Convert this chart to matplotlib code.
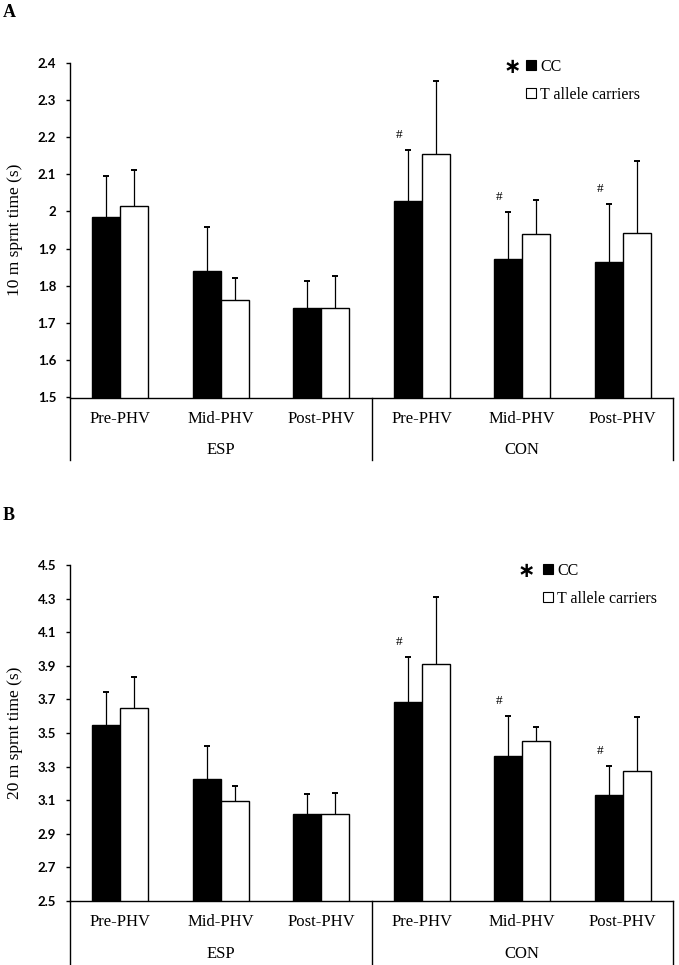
import matplotlib.pyplot as plt
import numpy as np

phases = ["Pre-PHV", "Mid-PHV", "Post-PHV"]
groups = ["ESP", "CON"]
series = ["CC", "T allele carriers"]

# panel A - 10 m sprint (mean, upper SD)
cc_10 = [1.986, 1.840, 1.740, 2.027, 1.873, 1.865]
cc_10_sd = [0.110, 0.119, 0.073, 0.138, 0.125, 0.154]
t_10 = [2.016, 1.762, 1.740, 2.155, 1.939, 1.942]
t_10_sd = [0.095, 0.060, 0.086, 0.195, 0.091, 0.194]

# panel B - 20 m sprint
cc_20 = [3.545, 3.225, 3.015, 3.685, 3.365, 3.128]
cc_20_sd = [0.200, 0.195, 0.120, 0.270, 0.235, 0.177]
t_20 = [3.650, 3.095, 3.015, 3.910, 3.455, 3.275]
t_20_sd = [0.185, 0.090, 0.130, 0.400, 0.080, 0.320]

hash_idx = [3, 4, 5]  # bars marked with '#'

yticks_10 = [1.5, 1.6, 1.7, 1.8, 1.9, 2.0, 2.1, 2.2, 2.3, 2.4]
yticks_20 = [2.5, 2.7, 2.9, 3.1, 3.3, 3.5, 3.7, 3.9, 4.1, 4.3, 4.5]

SERIF = "Liberation Serif"
W = 0.279


def upper_err(ax, x, y, sd):
    # only the upper half of the SD bar, cap on top only
    y = np.asarray(y)
    sd = np.asarray(sd)
    ax.vlines(x, y, y + sd, color="black", lw=0.9, zorder=3)
    ax.plot(x, y + sd, ls="none", marker="_", ms=5, mew=1.4, color="black",
            zorder=3)


def draw_panel(ax, cc, cc_sd, t, t_sd, yticks, ylabel, letter, star_x, leg_x, leg_y):
    x = np.arange(len(cc))
    n = len(cc)
    ax.bar(x - W / 2, cc, W, color="black", edgecolor="black", lw=1,
           label=series[0])
    ax.bar(x + W / 2, t, W, color="white", edgecolor="black", lw=1,
           label=series[1])
    upper_err(ax, x - W / 2, cc, cc_sd)
    upper_err(ax, x + W / 2, t, t_sd)

    for i in hash_idx:
        ax.annotate("#", xy=(i - W / 2, cc[i] + cc_sd[i]), xytext=(-9, 15),
                    textcoords="offset pixels", ha="center", va="center",
                    fontsize=9.5, family=SERIF)

    ax.set_xlim(-0.5, n - 0.5)
    ax.set_ylim(yticks[0], yticks[-1])
    ax.set_yticks(yticks)
    ax.set_yticklabels([f"{v:g}" for v in yticks], fontsize=9.5,
                       fontweight="bold", family="Lato")
    ax.set_xticks([])
    ax.tick_params(axis="y", direction="out", length=3, width=1, pad=7)
    for s in ["top", "right"]:
        ax.spines[s].set_visible(False)
    for s in ["left", "bottom"]:
        ax.spines[s].set_linewidth(1)

    ax.set_ylabel(ylabel, fontsize=12.5, family=SERIF)
    ax.yaxis.set_label_coords(-0.078, 0.5)

    # two-level category axis
    hpx = ax.get_position().height * fig.get_figheight() * fig.dpi
    tr = ax.get_xaxis_transform()
    for xb in [-0.5, 2.5, 5.5]:
        ax.plot([xb, xb], [0, -62.5 / hpx], transform=tr, clip_on=False,
                color="black", lw=1)
    for i in range(n):
        ax.text(i, -21.5 / hpx, phases[i % 3], transform=tr, ha="center",
                va="center", fontsize=12, family=SERIF)
    for g, gx in zip(groups, [1, 4]):
        ax.text(gx, -53 / hpx, g, transform=tr, ha="center", va="center",
                fontsize=12, family=SERIF)

    leg = ax.legend(loc="upper left", bbox_to_anchor=(leg_x, leg_y),
                    frameon=False, borderpad=0, borderaxespad=0,
                    handlelength=0.6, handleheight=0.6, handletextpad=0.25,
                    labelspacing=0.75, prop={"family": SERIF, "size": 11.5})
    for h in leg.legend_handles:
        h.set_linewidth(0.8)
    ax.text(star_x, leg_y - 0.025, "\u2217", transform=ax.transAxes,
            ha="center", va="center", fontsize=15, fontweight="bold")

    pos = ax.get_position()
    fig.text(0.004, pos.y1 + 50 / 965, letter, fontsize=13, fontweight="bold",
             family=SERIF, ha="left", va="center")


fig = plt.figure(figsize=(6.79, 9.65), dpi=100)
ax_a = fig.add_axes([70 / 679, 1 - 397.5 / 965, 603 / 679, 334.8 / 965])
ax_b = fig.add_axes([70 / 679, 1 - 901 / 965, 603 / 679, 336 / 965])

draw_panel(ax_a, cc_10, cc_10_sd, t_10, t_10_sd, yticks_10,
           "10 m sprnt time (s)", "A", 0.733, 0.757, 1.011)
draw_panel(ax_b, cc_20, cc_20_sd, t_20, t_20_sd, yticks_20,
           "20 m sprnt time (s)", "B", 0.756, 0.785, 1.006)

fig.savefig("out.png", dpi=100)
